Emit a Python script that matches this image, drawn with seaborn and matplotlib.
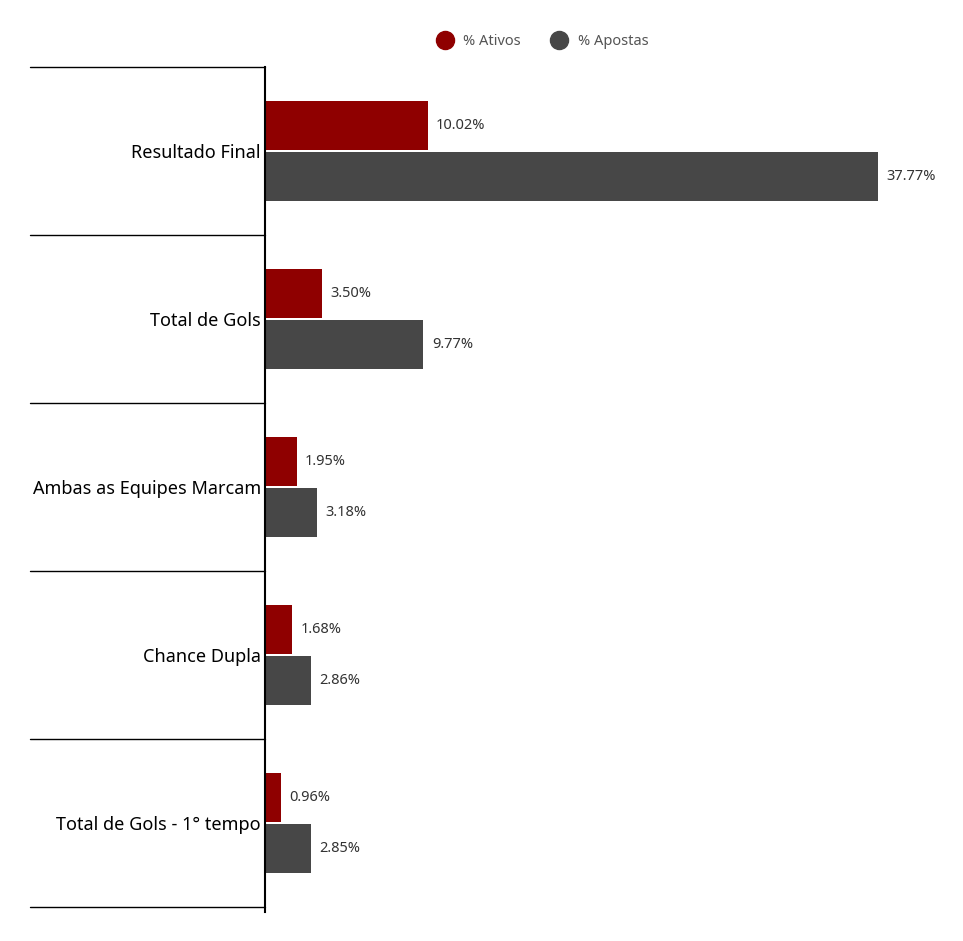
import matplotlib
matplotlib.use("Agg")
import matplotlib.pyplot as plt
import matplotlib.transforms as mtransforms
from matplotlib.lines import Line2D
import pandas as pd
import seaborn as sns

# %% data
categorias = ["Resultado Final", "Total de Gols", "Ambas as Equipes Marcam",
              "Chance Dupla", "Total de Gols - 1° tempo"]
ativos = [10.02, 3.50, 1.95, 1.68, 0.96]
apostas = [37.77, 9.77, 3.18, 2.86, 2.85]
series = ["% Ativos", "% Apostas"]
cores = ["#8f0000", "#474747"]

df = pd.DataFrame({
    "categoria": categorias * 2,
    "valor": ativos + apostas,
    "serie": [series[0]] * len(categorias) + [series[1]] * len(categorias),
})

# %% plot
sns.set_style("white")
plt.rcParams["font.family"] = ["Noto Sans", "DejaVu Sans"]

fig = plt.figure(figsize=(9.63, 9.41), dpi=100)
ax = fig.add_axes([265 / 963, 1 - 907 / 941, 665 / 963, 840 / 941])

sns.barplot(data=df, y="categoria", x="valor", hue="serie", orient="h",
            palette=cores, width=0.6, gap=0.02, saturation=1,
            linewidth=0, legend=False, ax=ax)

for cont in ax.containers:
    ax.bar_label(cont, labels=[f"{v:.2f}%" for v in cont.datavalues],
                 padding=6, fontsize=10.5, color="#333333")

ax.set_xlim(0, 41)
ax.set_ylim(len(categorias) - 0.5, -0.5)
ax.set_xlabel("")
ax.set_ylabel("")
ax.set_xticks([])
for s in ["top", "right", "bottom"]:
    ax.spines[s].set_visible(False)
ax.spines["left"].set_linewidth(1.5)
ax.spines["left"].set_color("black")
ax.spines["left"].set_bounds(len(categorias) - 0.47, -0.5)
ax.tick_params(axis="y", length=2, width=0.8, pad=1, labelsize=13,
               labelcolor="black")

# separator lines through the label area
trans = mtransforms.blended_transform_factory(fig.transFigure, ax.transData)
for i in range(len(categorias) + 1):
    ax.add_line(Line2D([30 / 963, 265 / 963], [i - 0.5, i - 0.5],
                       transform=trans, color="black", lw=1,
                       clip_on=False))

handles = [Line2D([], [], marker="o", ls="", markersize=13,
                  markerfacecolor=c, markeredgecolor=c) for c in cores]
fig.legend(handles, series, loc="center", bbox_to_anchor=(0.56, 0.956),
           ncol=2, frameon=False, fontsize=10.5, labelcolor="#555555",
           handletextpad=0.3, columnspacing=1.6)

fig.savefig("out.png", dpi=100)
